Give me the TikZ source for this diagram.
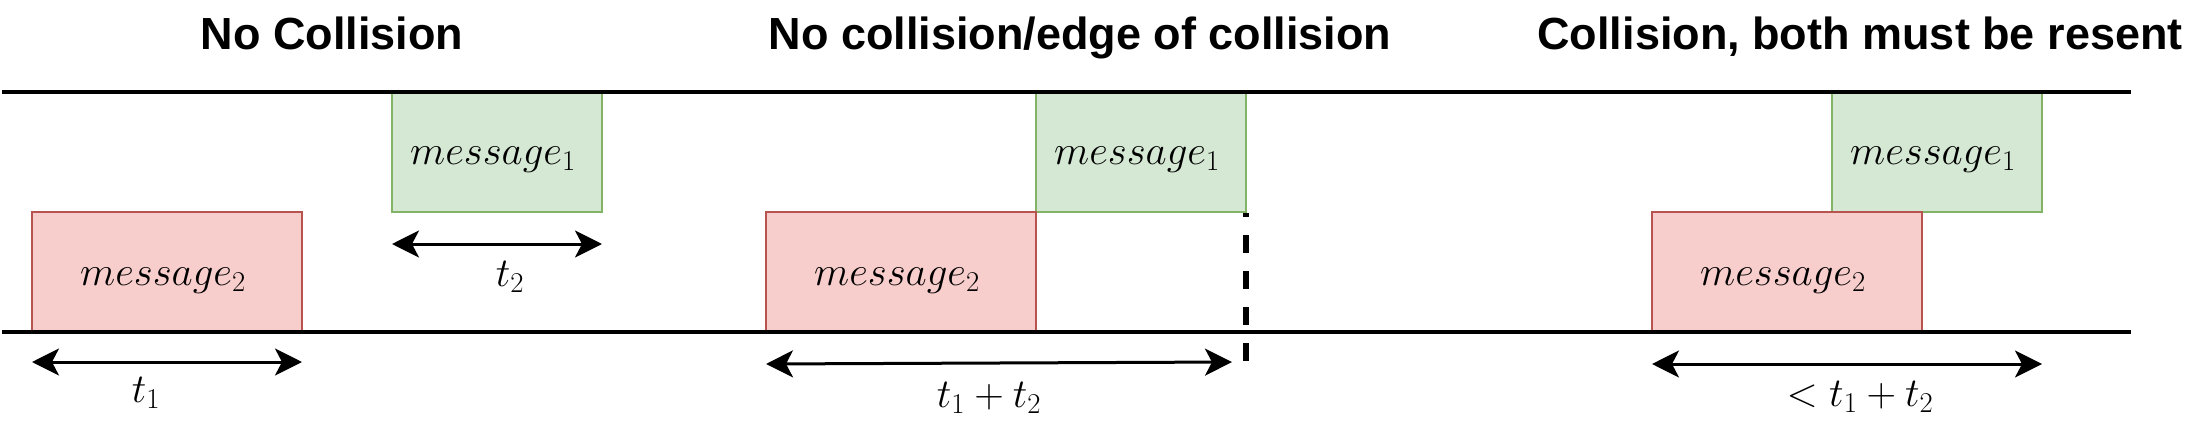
\RequirePackage{fix-cm}
\documentclass[tikz,border=0pt]{standalone}
\usepackage{fontspec}
\setsansfont{Liberation Sans}
\usetikzlibrary{arrows.meta}
\definecolor{gfill}{HTML}{D5E8D4}
\definecolor{gdraw}{HTML}{82B366}
\definecolor{rfill}{HTML}{F8CECC}
\definecolor{rdraw}{HTML}{B85450}
\tikzset{
  msgbox/.style={draw, line width=2.7pt, inner sep=0pt, outer sep=0pt, minimum height=120pt},
  greenbox/.style={msgbox, fill=gfill, draw=gdraw, minimum width=210pt},
  redbox/.style={msgbox, fill=rfill, draw=rdraw, minimum width=270pt},
  msgtext/.style={inner sep=0pt, anchor=base, font=\fontsize{41}{41}\selectfont},
  lbl/.style={inner sep=0pt, anchor=base, font=\fontsize{41}{41}\selectfont},
  titletext/.style={inner sep=0pt, anchor=base, font=\sffamily\bfseries\fontsize{45}{45}\selectfont},
  rail/.style={line width=3.3pt},
  span/.style={line width=3pt, {Stealth[length=27pt, width=27pt, inset=7pt]}-{Stealth[length=27pt, width=27pt, inset=7pt]}},
  edge/.style={line width=5.5pt, dash pattern=on 18pt off 18pt, dash phase=14pt}
}
\begin{document}
\begin{tikzpicture}[x=1pt, y=-1pt]
\useasboundingbox (0,0) rectangle (2193,447);

% titles
\node[titletext] (title1) at (332,49) {No Collision};
\node[titletext] (title2) at (1080,49) {No collision/edge of collision};
\node[titletext] (title3) at (1860,49) {Collision, both must be resent};

% dashed edge marker
\coordinate (d1) at (1246,213);
\coordinate (d2) at (1246,361);
\draw[edge] (d1) -- (d2);

% green boxes (message 1)
\node[greenbox] (g1) at (497,152) {};
\node[greenbox] (g2) at (1141,152) {};
\node[greenbox] (g3) at (1937,152) {};
% red boxes (message 2)
\node[redbox] (r1) at (167,272) {};
\node[redbox] (r2) at (901,272) {};
\node[redbox] (r3) at (1787,272) {};

% box texts
\node[msgtext] (g1t) at (493,164) {$message_1$};
\node[msgtext] (g2t) at (1137,164) {$message_1$};
\node[msgtext] (g3t) at (1933,164) {$message_1$};
\node[msgtext] (r1t) at (163,285) {$message_2$};
\node[msgtext] (r2t) at (897,285) {$message_2$};
\node[msgtext] (r3t) at (1783,285) {$message_2$};

% rails
\coordinate (topL) at (2,92);
\coordinate (topR) at (2131,92);
\coordinate (botL) at (2,332);
\coordinate (botR) at (2131,332);
\draw[rail] (topL) -- (topR);
\draw[rail] (botL) -- (botR);

% span arrows
\coordinate (a2l) at (392,244);
\coordinate (a2r) at (602,244);
\draw[span] (a2l) -- (a2r);
\coordinate (a1l) at (32,362);
\coordinate (a1r) at (302,362);
\draw[span] (a1l) -- (a1r);
\coordinate (a3l) at (766,364);
\coordinate (a3r) at (1232,362);
\draw[span] (a3l) -- (a3r);
\coordinate (a4l) at (1652,364);
\coordinate (a4r) at (2042,364);
\draw[span] (a4l) -- (a4r);

% span labels
\node[lbl] (l2) at (510,286) {$t_2$};
\node[lbl] (l1) at (146,402) {$t_1$};
\node[lbl] (l3) at (989,407) {$t_1+t_2$};
\node[lbl] (l4) at (1860,406) {$<t_1+t_2$};
\end{tikzpicture}
\end{document}
